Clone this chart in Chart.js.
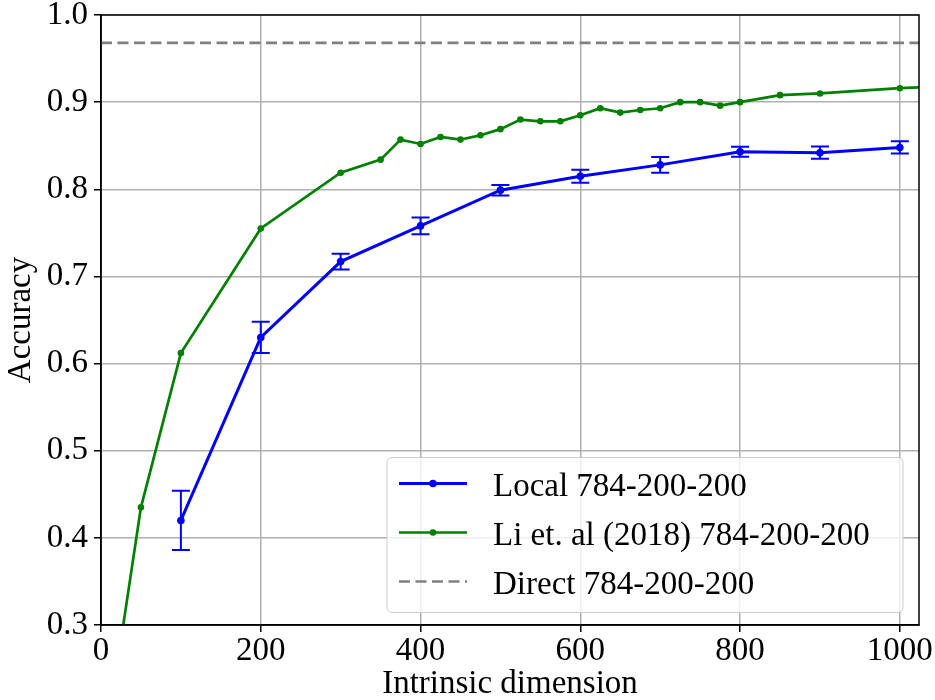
<!DOCTYPE html>
<html>
<head>
<meta charset="utf-8">
<script src="https://cdn.jsdelivr.net/npm/chart.js@4.4.0/dist/chart.umd.min.js"></script>
<style>
    html, body { margin: 0; padding: 0; background: #ffffff; }
    canvas { display: block; }
</style>
</head>
<body>
<canvas id="chart" width="935" height="700"></canvas>
<script>
// Local 784-200-200 (mean accuracy and half error bar)
const localDims = [100, 200, 300, 400, 500, 600, 700, 800, 900, 1000];
const localAcc = [0.420, 0.630, 0.717, 0.758, 0.799, 0.815, 0.828, 0.843, 0.842, 0.848];
const localErr = [0.034, 0.018, 0.009, 0.0095, 0.006, 0.0075, 0.009, 0.0058, 0.007, 0.007];

// Li et. al (2018) 784-200-200
const liDims = [0, 50, 100, 200, 300, 350, 375, 400, 425, 450, 475, 500, 525, 550, 575, 600,
    625, 650, 675, 700, 725, 750, 775, 800, 850, 900, 1000, 1100];
const liAcc = [0.13, 0.435, 0.612, 0.755, 0.819, 0.834, 0.857, 0.852, 0.860, 0.857, 0.862, 0.869, 0.880, 0.878, 0.878, 0.885,
    0.893, 0.888, 0.891, 0.893, 0.900, 0.900, 0.896, 0.900, 0.908, 0.910, 0.916, 0.920];

// Direct 784-200-200 (horizontal reference)
const directDims = [0, 1100];
const directAcc = 0.968;

const xTicks = [0, 200, 400, 600, 800, 1000];
const yTicks = [0.3, 0.4, 0.5, 0.6, 0.7, 0.8, 0.9, 1.0];

const FONT = 'Liberation Serif';
const FONT_SIZE = 33;
Chart.defaults.font.family = FONT;
Chart.defaults.color = '#000000';

// Fehlerbalken fuer die lokale Kurve
const errorBarPlugin = {
    id: 'errorBars',
    afterDatasetsDraw(chart) {
        const ctx = chart.ctx;
        const xs = chart.scales.x, ys = chart.scales.y;
        const a = chart.chartArea;
        ctx.save();
        ctx.beginPath();
        ctx.rect(a.left, a.top, a.right - a.left, a.bottom - a.top);
        ctx.clip();
        ctx.strokeStyle = '#0000ff';
        ctx.lineWidth = 2;
        localDims.forEach((d, i) => {
            const px = xs.getPixelForValue(d);
            const top = ys.getPixelForValue(localAcc[i] + localErr[i]);
            const bot = ys.getPixelForValue(localAcc[i] - localErr[i]);
            ctx.beginPath();
            ctx.moveTo(px, top); ctx.lineTo(px, bot);
            ctx.moveTo(px - 9, top); ctx.lineTo(px + 9, top);
            ctx.moveTo(px - 9, bot); ctx.lineTo(px + 9, bot);
            ctx.stroke();
        });
        ctx.restore();

        // Rahmen um die Zeichenflaeche
        ctx.save();
        ctx.strokeStyle = '#000000';
        ctx.lineWidth = 1.5;
        ctx.strokeRect(a.left, a.top, a.right - a.left, a.bottom - a.top);
        ctx.restore();
    }
};

// Legende unten rechts im Diagramm
const boxLegendPlugin = {
    id: 'boxLegend',
    afterDraw(chart) {
        const ctx = chart.ctx;
        const a = chart.chartArea;
        const w = 516, h = 155;
        const bx = a.right - 16 - w;
        const by = a.bottom - 12.5 - h;
        ctx.save();
        ctx.beginPath();
        ctx.roundRect(bx, by, w, h, 5);
        ctx.fillStyle = 'rgba(255,255,255,0.8)';
        ctx.fill();
        ctx.strokeStyle = '#cccccc';
        ctx.lineWidth = 1;
        ctx.stroke();

        chart.data.datasets.forEach((ds, i) => {
            const cy = by + 26 + i * 49;
            ctx.strokeStyle = ds.borderColor;
            ctx.lineWidth = ds.borderWidth;
            ctx.setLineDash(ds.borderDash || []);
            ctx.beginPath();
            ctx.moveTo(bx + 12, cy);
            ctx.lineTo(bx + 80, cy);
            ctx.stroke();
            ctx.setLineDash([]);
            if (ds.pointRadius > 0) {
                ctx.beginPath();
                ctx.arc(bx + 46, cy, ds.pointRadius, 0, Math.PI * 2);
                ctx.fillStyle = ds.borderColor;
                ctx.fill();
            }
            ctx.fillStyle = '#000000';
            ctx.font = FONT_SIZE + 'px "' + FONT + '"';
            ctx.textBaseline = 'alphabetic';
            ctx.textAlign = 'left';
            ctx.fillText(ds.label, bx + 106, cy + 12);
        });
        ctx.restore();
    }
};

const ctx = document.getElementById('chart').getContext('2d');
new Chart(ctx, {
    type: 'line',
    data: {
        datasets: [
            {
                label: 'Local 784-200-200',
                data: localDims.map((d, i) => ({ x: d, y: localAcc[i] })),
                borderColor: '#0000ff',
                backgroundColor: '#0000ff',
                borderWidth: 3,
                pointRadius: 3.8,
                pointBorderWidth: 0,
                fill: false,
                tension: 0,
                clip: 0
            },
            {
                label: 'Li et. al (2018) 784-200-200',
                data: liDims.map((d, i) => ({ x: d, y: liAcc[i] })),
                borderColor: '#008000',
                backgroundColor: '#008000',
                borderWidth: 2.7,
                pointRadius: 3.3,
                pointBorderWidth: 0,
                fill: false,
                tension: 0,
                clip: 0
            },
            {
                label: 'Direct 784-200-200',
                data: directDims.map(d => ({ x: d, y: directAcc })),
                borderColor: '#808080',
                backgroundColor: '#808080',
                borderWidth: 2.6,
                borderDash: [11, 5.5],
                pointRadius: 0,
                fill: false,
                clip: 0
            }
        ]
    },
    options: {
        responsive: false,
        animation: false,
        events: [],
        layout: { padding: { top: 15, right: 16, bottom: 0, left: 0 } },
        plugins: {
            legend: { display: false },
            tooltip: { enabled: false }
        },
        scales: {
            x: {
                type: 'linear',
                min: 0,
                max: 1024,
                afterBuildTicks: s => { s.ticks = xTicks.map(v => ({ value: v })); },
                ticks: {
                    includeBounds: false,
                    padding: 0,
                    maxRotation: 0,
                    color: '#000000',
                    font: { size: FONT_SIZE },
                    callback: v => String(v)
                },
                grid: { color: '#b0b0b0', lineWidth: 1.5, tickLength: 7, tickColor: '#000000', tickWidth: 1.5 },
                border: { color: '#000000', width: 1.5 },
                title: {
                    display: true,
                    text: 'Intrinsic dimension',
                    color: '#000000',
                    font: { size: FONT_SIZE, lineHeight: 1 },
                    padding: { top: 0, bottom: -1 }
                },
                afterFit: s => { s.height = 75; s.paddingLeft = 0; s.paddingRight = 0; }
            },
            y: {
                type: 'linear',
                min: 0.3,
                max: 1.0,
                afterBuildTicks: s => { s.ticks = yTicks.map(v => ({ value: v })); },
                ticks: {
                    padding: 6,
                    color: '#000000',
                    font: { size: FONT_SIZE },
                    callback: v => v.toFixed(1)
                },
                grid: { color: '#b0b0b0', lineWidth: 1.5, tickLength: 7, tickColor: '#000000', tickWidth: 1.5 },
                border: { color: '#000000', width: 1.5 },
                title: {
                    display: true,
                    text: 'Accuracy',
                    color: '#000000',
                    font: { size: FONT_SIZE, lineHeight: 1 },
                    padding: { top: 5, bottom: 0 }
                },
                afterFit: s => { s.width = 101; s.paddingTop = 0; s.paddingBottom = 0; }
            }
        }
    },
    plugins: [errorBarPlugin, boxLegendPlugin]
});
</script>
</body>
</html>
